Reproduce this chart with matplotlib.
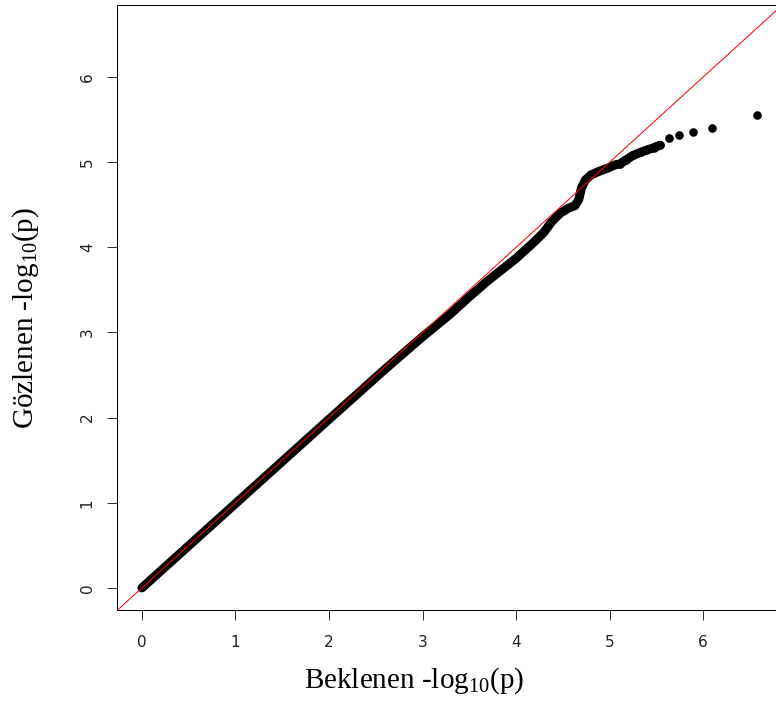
import matplotlib
matplotlib.use("Agg")
import matplotlib.pyplot as plt

band_expected = [0.0, 1.0, 2.0, 2.6, 3.0, 3.3, 3.5, 3.7, 3.85, 4.0, 4.1, 4.2, 4.3,
                 4.38, 4.47, 4.56, 4.63, 4.67, 4.70, 4.74, 4.80, 4.88, 4.98, 5.06,
                 5.11, 5.18, 5.25, 5.34, 5.39, 5.47, 5.54]
band_observed = [0.0, 0.99, 1.98, 2.57, 2.95, 3.22, 3.42, 3.61, 3.74, 3.87, 3.97, 4.07, 4.18,
                 4.30, 4.40, 4.46, 4.49, 4.56, 4.70, 4.79, 4.85, 4.89, 4.93, 4.97,
                 4.98, 5.03, 5.08, 5.12, 5.14, 5.17, 5.20]

# Upper tail individual points
tail_expected = [5.11, 5.18, 5.25, 5.34, 5.39, 5.47, 5.54, 5.63, 5.74, 5.89, 6.10, 6.58]
tail_observed = [4.98, 5.03, 5.08, 5.12, 5.14, 5.17, 5.20, 5.28, 5.32, 5.35, 5.40, 5.55]

x_ticks = [0, 1, 2, 3, 4, 5, 6]
y_ticks = [0, 1, 2, 3, 4, 5, 6]
x_label = r"Beklenen -log$_{\mathrm{10}}$(p)"
y_label = r"Gözlenen -log$_{\mathrm{10}}$(p)"

plt.rcParams["mathtext.fontset"] = "custom"
plt.rcParams["mathtext.rm"] = "Liberation Serif"
plt.rcParams["mathtext.it"] = "Liberation Serif:italic"

W, H = 776, 709
dpi = 100
fig = plt.figure(figsize=(W / dpi, H / dpi), dpi=dpi)

left_px, right_px, top_px, bottom_px = 117.3, 782.0, 5.3, 610.3
ax = fig.add_axes([left_px / W, (H - bottom_px) / H,
                   (right_px - left_px) / W, (bottom_px - top_px) / H])

px = 72.0 / dpi  # points per pixel

ax.plot(band_expected, band_observed, color="black", lw=9.0 * px,
        solid_capstyle="round", solid_joinstyle="round", zorder=2)
ax.scatter(tail_expected, tail_observed, s=(8.6 * px) ** 2, color="black",
           linewidths=0, zorder=2)
ax.axline((0, 0), slope=1, color="red", lw=1.0 * px, zorder=3)

ax.set_xlim(-0.263, 6.843)
ax.set_ylim(-0.263, 6.843)
ax.set_xticks(x_ticks)
ax.set_yticks(y_ticks)
ax.set_xticklabels([str(t) for t in x_ticks])
ax.set_yticklabels([str(t) for t in y_ticks], rotation=90, va="center")

ax.tick_params(axis="both", direction="out", length=10 * px, width=1.0 * px,
               color="#333333", labelsize=11, labelcolor="#222222")
ax.tick_params(axis="x", pad=14.5 * px)
ax.tick_params(axis="y", pad=12.5 * px)

for s in ax.spines.values():
    s.set_linewidth(1.0 * px)
    s.set_color("black")

lab_font = dict(family="Liberation Serif", size=21, color="black")
fig.text(414 / W, (H - 688) / H, x_label, ha="center", va="baseline", **lab_font)
fig.text(26 / W, (H - 318) / H, y_label, ha="center", va="center",
         rotation=90, **lab_font)

fig.savefig("out.png", dpi=dpi)
